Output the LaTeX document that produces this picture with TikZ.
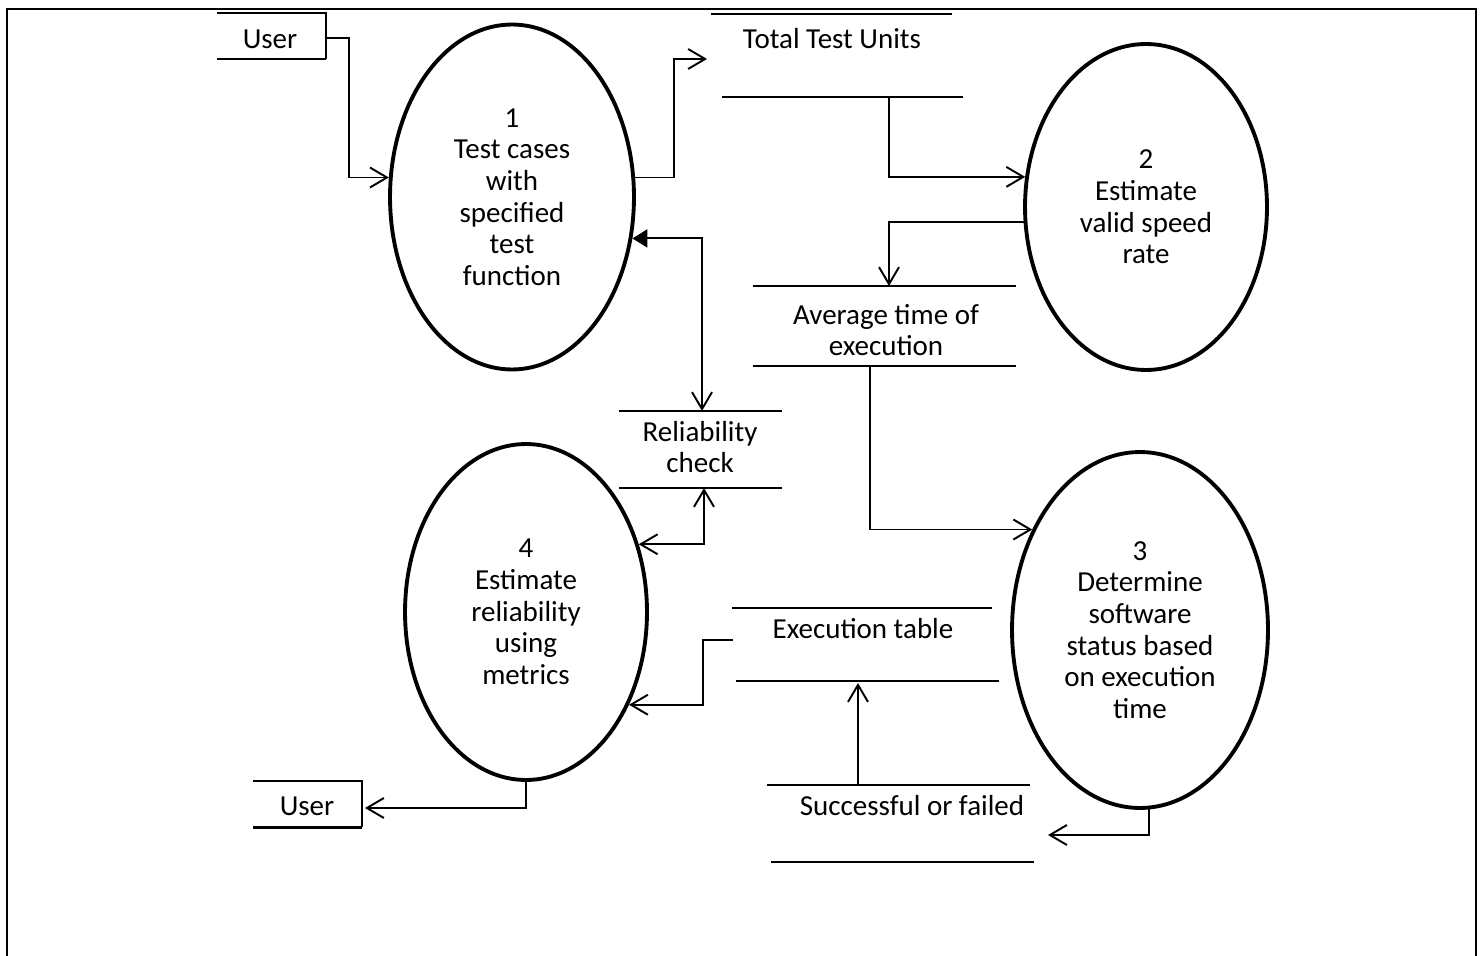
\documentclass[tikz,border=0pt]{standalone}
\usepackage{fontspec}
\setmainfont{Carlito}
\usetikzlibrary{arrows.meta,shapes.geometric}
\tikzset{every picture/.style={line width=1.1pt}}
\tikzset{
  proc/.style={ellipse, draw, line width=2.2pt, inner sep=0pt, align=center},
  store/.style={line width=1.1pt},
  flow/.style={-{Straight Barb[length=3.4mm,width=4mm]}},
  both/.style={{Straight Barb[length=3.4mm,width=4mm]}-{Straight Barb[length=3.4mm,width=4mm]}},
}

\begin{document}
\begin{tikzpicture}[x=0.02cm, y=-0.02cm, every node/.style={font=\fontsize{16.5}{18}\selectfont}]
        \useasboundingbox (0,0) rectangle (1483,956);
        \draw[line width=1.5pt] (7,956) -- (7,9) -- (1476,9) -- (1476,956);
        % processes
        \node[proc, minimum width=4.88cm, minimum height=6.9cm]  (p1) at (512,197) {1\\Test cases\\with\\specified\\test\\function};
        \node[proc, minimum width=4.84cm, minimum height=6.52cm] (p2) at (1146,207) {2\\Estimate\\valid speed\\rate};
        \node[proc, minimum width=5.12cm, minimum height=7.12cm] (p3) at (1140,630) {3\\Determine\\software\\status based\\on execution\\time};
        \node[proc, minimum width=4.84cm, minimum height=6.72cm] (p4) at (526,612) {4\\Estimate\\reliability\\using\\metrics};
        % users
        \node (u1) at (270,39) {User};
        \draw (217,13) -- (326,13) -- (326,59);
        \draw[line width=1.7pt] (217,59) -- (326,59);
        \node (u2) at (307,806) {User};
        \draw (253,781) -- (362,781) -- (362,827);
        \draw[line width=1.7pt] (253,827) -- (362,827);
        % stores
        \node (tu) at (832,39) {Total Test Units};
        \draw[store] (711,14) -- (952,14) (722,97) -- (963,97);
        \node[align=center] (avg) at (886,330) {Average time of\\execution};
        \draw[store] (753,286) -- (1016,286) (753,366) -- (1016,366);
        \node[align=center] (rc) at (700,447) {Reliability\\check};
        \draw[store] (619,411) -- (782,411) (619,488) -- (782,488);
        \node (et) at (863,629) {Execution table};
        \draw[store] (732,608) -- (992,608) (736,681) -- (999,681);
        \node (sf) at (912,806) {Successful or failed};
        \draw[store] (767,785) -- (1030,785) (771,862) -- (1034,862);
        % connector ends
        \coordinate (u1-out) at (326,38);
        \coordinate (tu-in) at (707,59);
        \coordinate (tu-out) at (889,97);
        \coordinate (avg-in) at (889,286);
        \coordinate (avg-out) at (870,366);
        \coordinate (rc-in) at (702,411);
        \coordinate (rc-out) at (704,488);
        \coordinate (et-out) at (733,640);
        \coordinate (et-in) at (858,683);
        \coordinate (sf-out) at (858,785);
        \coordinate (sf-in) at (1048,835);
        \coordinate (u2-in) at (365,808);
        % flows
        \draw[flow] (u1-out) -- ++(23,0) |- (p1.171);
        \draw[flow] (p1.9) -- ++(39,0) |- (tu-in);
        \draw[flow] (tu-out) |- (p2.166);
        \draw[flow] (p2.-173) -| (avg-in);
        \draw[flow] (avg-out) |- (p3.137);
        \draw[{Triangle[length=3mm,width=3.6mm]}-{Straight Barb[length=3.4mm,width=4mm]}] (p1.-19) -| (rc-in);
        \draw[both] (p4.31) -| (rc-out);
        \draw[flow] (et-out) -- ++(-30,0) |- (p4.-42);
        \draw[flow] (sf-out) -- (et-in);
        \draw[flow] (p3.-87) |- (sf-in);
        \draw[flow] (p4.south) |- (u2-in);
\end{tikzpicture}
\end{document}
